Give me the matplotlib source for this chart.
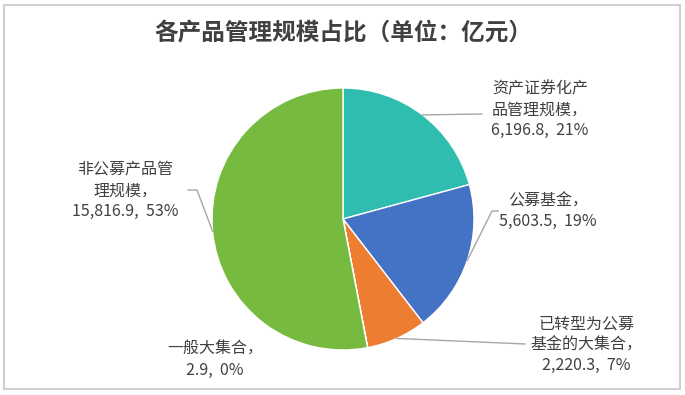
import numpy as np
import matplotlib
matplotlib.use('Agg')
import matplotlib.pyplot as plt
from matplotlib.patches import Rectangle

plt.rcParams['font.family'] = ['Noto Sans CJK SC', 'DejaVu Sans']

# données (unité : 亿元)
categories = ['资产证券化产\n品管理规模', '公募基金', '已转型为公募\n基金的大集合', '一般大集合', '非公募产品管\n理规模']
values = [6196.8, 5603.5, 2220.3, 2.9, 15816.9]
colors = ['#2FBDB0', '#4472C4', '#ED7D31', '#A5A5A5', '#76BB40']

W, H = 685, 395
CX, CY, R = 343, 219, 131   # centre et rayon du camembert (pixels)


def px(x, y):
    """pixels (origine haut-gauche) -> coordonnées données du camembert"""
    return (x - CX) / R, (CY - y) / R


fig = plt.figure(figsize=(W / 100, H / 100), dpi=100)
ax = fig.add_axes([(CX - R) / W, (H - CY - R) / H, 2 * R / W, 2 * R / H])

wedges, _ = ax.pie(values, colors=colors, startangle=90, counterclock=False,
                   radius=1, wedgeprops=dict(edgecolor='white', linewidth=1))
ax.set_xlim(-1, 1)
ax.set_ylim(-1, 1)
ax.set_aspect('equal')
ax.axis('off')

total = sum(values)
labels = ['{}，\n{:,.1f},  {:.0f}%'.format(c, v, v / total * 100) for c, v in zip(categories, values)]

# position du texte (centre, pixels) et coude du trait de rappel
layout = [
    dict(text=(540, 110), elbow=[(482, 114)]),
    dict(text=(548, 211), elbow=[(492, 211), (498, 211)]),
    dict(text=(586, 345), elbow=[(525, 344)]),
    dict(text=(215, 360), elbow=None),
    dict(text=(125, 191), elbow=[(197, 190), (188, 190)]),
]

for w, lab, lay in zip(wedges, labels, layout):
    tx, ty = px(*lay['text'])
    ax.text(tx, ty, lab, ha='center', va='center', fontsize=11.5, color='#404040',
            linespacing=1.3, clip_on=False)
    if lay['elbow'] is None:
        continue
    mid = np.deg2rad((w.theta1 + w.theta2) / 2)
    pts = [(np.cos(mid), np.sin(mid))] + [px(*p) for p in lay['elbow']]
    xs, ys = zip(*pts)
    ax.plot(xs, ys, color='#A6A6A6', lw=1, clip_on=False)

fig.text(CX / W, 1 - 33 / H, '各产品管理规模占比（单位：亿元）', ha='center', va='center',
         fontsize=17, fontweight='bold', color='#404040')

fig.patches.append(Rectangle((4 / W, 1 - 389 / H), 676 / W, 384 / H, transform=fig.transFigure,
                             fill=False, edgecolor='#D0D0D0', linewidth=1.5))

fig.savefig('out.png', dpi=100)
